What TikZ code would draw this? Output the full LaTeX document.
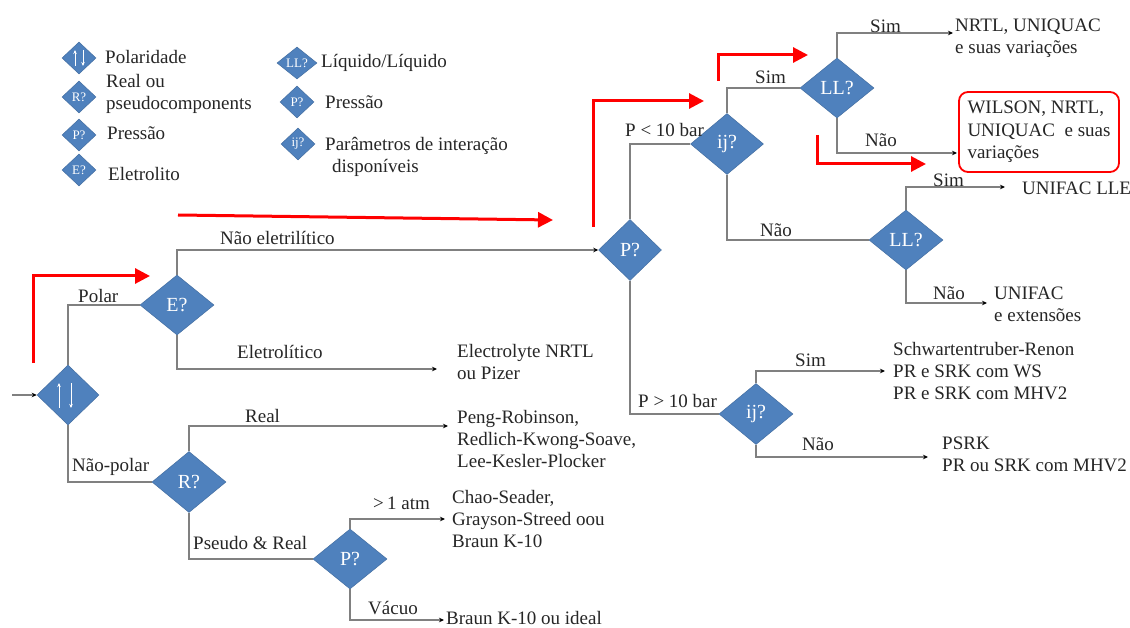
\documentclass[tikz,border=0pt]{standalone}
\usepackage{fontspec}
\setmainfont{Liberation Serif}
\usetikzlibrary{shapes.geometric,arrows.meta,calc}
\definecolor{dblue}{HTML}{4F81BD}
\definecolor{lgray}{HTML}{808080}
\definecolor{tcol}{HTML}{262626}
\begin{document}
\begin{tikzpicture}[x=1pt,y=-1pt,
  dia/.style={diamond, fill=dblue, draw=dblue!85!black, line width=0.5pt, inner sep=0pt, text=white, font=\fontsize{20}{22}\selectfont},
  ldia/.style={diamond, fill=dblue, draw=dblue!85!black, line width=0.5pt, inner sep=0pt, text=white, font=\fontsize{13}{14}\selectfont, minimum width=34, minimum height=32},
  txt/.style={anchor=west, inner sep=0pt, align=left, text=tcol, font=\fontsize{19}{22}\selectfont},
  conn/.style={draw=lgray, line width=1.3pt},
  arr/.style={conn, -{Stealth[length=5pt,width=4.5pt,color=black]}},
  redarr/.style={draw=red, line width=3pt, -{Triangle[length=15pt,width=15pt]}},
  wbox/.style={draw=red, line width=1.8pt, rounded corners=9pt, minimum width=160, minimum height=80, inner sep=0pt, align=left, text=tcol, font=\fontsize{19}{22.5}\selectfont},
  polarr/.style={draw=white, line width=0.8pt, -{Stealth[length=4pt,width=3.5pt]}}
]
\useasboundingbox (0,0) rectangle (1130,628);
\fill[white] (0,0) rectangle (1130,628);

% ---------- legend ----------
\node[ldia] (lg1) at (79,58) {};
\draw[polarr] ($(lg1)+(-4,8)$) -- ($(lg1)+(-4,-8)$);
\draw[polarr] ($(lg1)+(4,-8)$) -- ($(lg1)+(4,8)$);
\node[ldia] (lg2) at (79,97) {R?};
\node[ldia] (lg3) at (79,135) {P?};
\node[ldia] (lg4) at (79,170) {E?};
\node[ldia, minimum width=40] (lg5) at (297,63) {LL?};
\node[ldia] (lg6) at (297,102) {P?};
\node[ldia] (lg7) at (298,144) {ij?};

\node[txt] (lt1) at (105,57) {Polaridade};
\node[txt] (lt2) at (106,94) {Real ou\\pseudocomponents};
\node[txt] (lt3) at (107,133) {Pressão};
\node[txt] (lt4) at (108,174) {Eletrolito};
\node[txt] (lt5) at (321,63) {Líquido/Líquido};
\node[txt] (lt6) at (325,102) {Pressão};
\node[txt] (lt7) at (325,157) {Parâmetros de interação\\\hspace*{7pt}disponíveis};

% ---------- decision diamonds ----------
\node[dia, minimum width=62, minimum height=60] (pol) at (68,395) {};
\draw[polarr] ($(pol)+(-9,13)$) -- ($(pol)+(-9,-12)$);
\draw[polarr] ($(pol)+(3,-12)$) -- ($(pol)+(3,13)$);
\node[dia, minimum width=74, minimum height=60] (E) at (177,305) {E?};
\node[dia, minimum width=74, minimum height=61] (R) at (189,482) {R?};
\node[dia, minimum width=74, minimum height=60] (P2) at (350,559) {P?};
\node[dia, minimum width=63, minimum height=61] (P) at (630,250) {P?};
\node[dia, minimum width=73, minimum height=61] (ij1) at (727,144) {ij?};
\node[dia, minimum width=74, minimum height=60] (LL1) at (837,88) {LL?};
\node[dia, minimum width=74, minimum height=60] (LL2) at (906,240) {LL?};
\node[dia, minimum width=74, minimum height=61] (ij2) at (756,414) {ij?};

% ---------- result texts ----------
\node[txt] (elec) at (457,362) {Electrolyte NRTL\\ou Pizer};
\node[txt] (peng) at (457,439) {Peng-Robinson,\\Redlich-Kwong-Soave,\\Lee-Kesler-Plocker};
\node[txt] (chao) at (452,519) {Chao-Seader,\\Grayson-Streed oou\\Braun K-10};
\node[txt] (braun) at (446,618) {Braun K-10 ou ideal};
\node[txt] (nrtl) at (955,38) {NRTL, UNIQUAC\\e suas variações};
\node[wbox] (wil) at (1039,132) {WILSON, NRTL,\\UNIQUAC\ \ e suas\\variações};
\node[txt] (lle) at (1022,188) {UNIFAC LLE};
\node[txt] (unif) at (994,304) {UNIFAC\\e extensões};
\node[txt] (schw) at (893,371) {Schwartentruber-Renon\\PR e SRK com WS\\PR e SRK com MHV2};
\node[txt] (psrk) at (942,454) {PSRK\\PR ou SRK com MHV2};

% ---------- arrow end points ----------
\coordinate (in) at (12,395);
\coordinate (aElec) at (437,369);
\coordinate (aPeng) at (448,426);
\coordinate (aChao) at (445,519);
\coordinate (aBraun) at (444,620);
\coordinate (aNRTL) at (953,33);
\coordinate (aWil) at (957,153);
\coordinate (aLLE) at (1005,187);
\coordinate (aUni) at (987,303);
\coordinate (aSchw) at (885,371);
\coordinate (aPSRK) at (928,457);

% ---------- connectors ----------
\draw[arr] (in) -- (pol.west);
\draw[conn] (pol.north) |- (E.west);
\draw[arr] (E.north) |- (P.west);
\draw[arr] (E.south) |- (aElec);
\draw[conn] (pol.south) |- (R.west);
\draw[arr] (R.north) |- (aPeng);
\draw[conn] (R.south) |- (P2.west);
\draw[arr] (P2.north) |- (aChao);
\draw[arr] (P2.south) |- (aBraun);
\draw[conn] (P.north) |- (ij1.west);
\draw[conn] (P.south) |- (ij2.west);
\draw[conn] (ij1.north) |- (LL1.west);
\draw[conn] (ij1.south) |- (LL2.west);
\draw[arr] (LL1.north) |- (aNRTL);
\draw[arr] (LL1.south) |- (aWil);
\draw[arr] (LL2.north) |- (aLLE);
\draw[arr] (LL2.south) |- (aUni);
\draw[arr] (ij2.north) |- (aSchw);
\draw[arr] (ij2.south) |- (aPSRK);

% ---------- connector labels ----------
\node[txt] (l1) at (78,296) {Polar};
\node[txt] (l2) at (220,238) {Não eletrilítico};
\node[txt] (l3) at (237,352) {Eletrolítico};
\node[txt] (l4) at (72,467) {Não-polar};
\node[txt] (l5) at (245,416) {Real};
\node[txt] (l6) at (193,543) {Pseudo \& Real};
\node[txt] (l7) at (373,503) {>\,1 atm};
\node[txt] (l8) at (368,608) {Vácuo};
\node[txt] (l9) at (625,130) {P < 10 bar};
\node[txt] (l10) at (638,401) {P > 10 bar};
\node[txt] (l11) at (755,77) {Sim};
\node[txt] (l12) at (870,26) {Sim};
\node[txt] (l13) at (865,140) {Não};
\node[txt] (l14) at (760,230) {Não};
\node[txt] (l15) at (933,180) {Sim};
\node[txt] (l16) at (933,293) {Não};
\node[txt] (l17) at (795,360) {Sim};
\node[txt] (l18) at (802,444) {Não};

% ---------- red highlight arrows ----------
\coordinate (r1a) at (33,363);  \coordinate (r1b) at (150,276);
\coordinate (r2a) at (178,215); \coordinate (r2b) at (553,220);
\coordinate (r3a) at (593,227); \coordinate (r3b) at (704,101);
\coordinate (r4a) at (718,81);  \coordinate (r4b) at (808,55);
\coordinate (r5a) at (817,135); \coordinate (r5b) at (926,164);
\draw[redarr] (r1a) |- (r1b);
\draw[redarr] (r2a) -- (r2b);
\draw[redarr] (r3a) |- (r3b);
\draw[redarr] (r4a) |- (r4b);
\draw[redarr] (r5a) |- (r5b);
\end{tikzpicture}
\end{document}
